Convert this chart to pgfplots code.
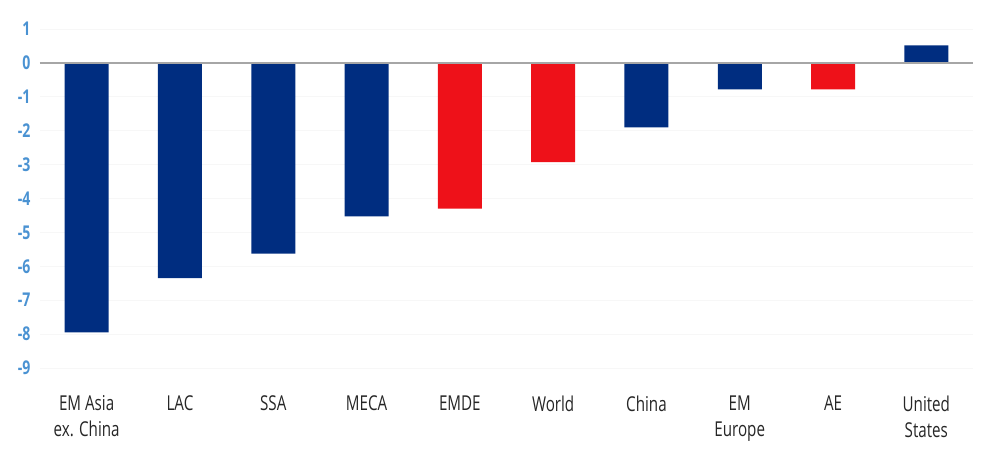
\documentclass[border=0pt]{standalone}
\usepackage{pgfplots}
\pgfplotsset{compat=1.18}
\usepackage{fontspec}
\setmainfont{Open Sans}[FakeStretch=0.74]
\definecolor{navy}{HTML}{002D80}
\definecolor{redbar}{HTML}{EE1119}
\definecolor{ticblue}{HTML}{4A92D2}
\begin{document}
\begin{tikzpicture}
\path[use as bounding box] (-40pt,-102pt) rectangle (954pt,368pt);
\begin{axis}[
  at={(0,0)}, anchor=south west,
  scale only axis, width=933pt, height=339pt,
  xmin=-0.5, xmax=9.5, ymin=-9, ymax=1,
  axis line style={draw=none},
  ytick={-9,...,1},
  xtick={0,...,9},
  xticklabels={EM Asia\\ex. China, LAC, SSA, MECA, EMDE, World, China, EM\\Europe, AE, United\\States},
  xticklabel style={align=center, font=\fontsize{20.5}{26}\selectfont, text=black!85, anchor=north, yshift=-24pt},
  yticklabel style={font=\fontsize{19}{22}\selectfont\bfseries, text=ticblue, anchor=east, xshift=-6pt},
  /pgf/number format/assume math mode=true,
  major tick length=0pt,
  ymajorgrids, grid style={draw=black!3, line width=0.8pt},
  ybar, bar width=44pt, bar shift=0pt,
  clip=false,
]
\addplot[fill=navy, draw=none] coordinates {(0,-7.95) (1,-6.35) (2,-5.63) (3,-4.53) (6,-1.9) (7,-0.78) (9,0.52)};
\addplot[fill=redbar, draw=none] coordinates {(4,-4.3) (5,-2.93) (8,-0.78)};
\draw[gray!70, line width=1.4pt] (axis cs:-0.5,0) -- (axis cs:9.5,0);
\end{axis}
\end{tikzpicture}
\end{document}
